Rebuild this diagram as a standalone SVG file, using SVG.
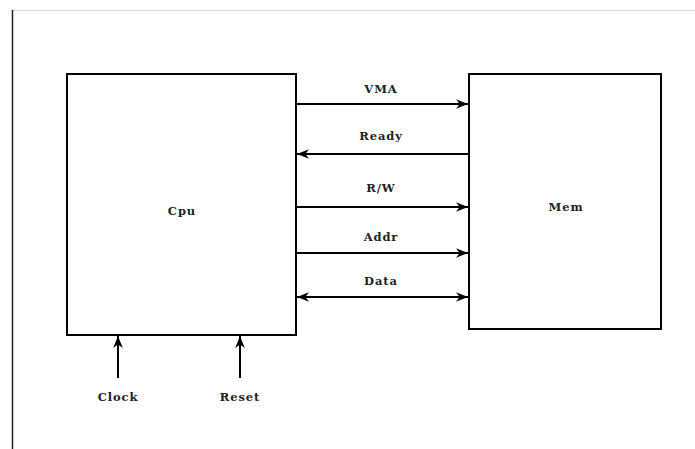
<svg xmlns="http://www.w3.org/2000/svg" width="695" height="449" viewBox="0 0 695 449">
<style>
.box{fill:#fff;stroke:#000;stroke-width:2}
.wire{stroke:#000;stroke-width:2;fill:none}
.lbl{font-family:"DejaVu Serif","Liberation Serif",serif;font-weight:bold;font-size:11.5px;letter-spacing:0.9px;fill:#222;text-anchor:middle}
</style>
<defs>
<marker id="ah" viewBox="0 0 10 10" refX="10" refY="5" markerWidth="6" markerHeight="6" orient="auto-start-reverse" markerUnits="strokeWidth">
<path d="M0,1 L10,5 L0,9 L3,5 Z" fill="#000"/>
</marker>
</defs>
<rect width="695" height="449" fill="#fff"/>
<line x1="12" y1="10.5" x2="695" y2="10.5" stroke="#d8d8d8" stroke-width="1"/>
<line x1="12.5" y1="10" x2="12.5" y2="449" stroke="#222" stroke-width="1.5"/>
<g id="cpu">
<rect class="box" x="67" y="74" width="229" height="261"/>
<text class="lbl" x="182" y="215">Cpu</text>
</g>
<g id="mem">
<rect class="box" x="469" y="74" width="192" height="255"/>
<text class="lbl" x="566" y="211">Mem</text>
</g>
<g id="clock">
<text class="lbl" x="118" y="401">Clock</text>
</g>
<g id="reset">
<text class="lbl" x="240" y="401">Reset</text>
</g>
<g id="connectors">
<line class="wire" x1="297" y1="104" x2="468" y2="104" marker-end="url(#ah)"/>
<text class="lbl" x="381" y="93">VMA</text>
<line class="wire" x1="468" y1="154" x2="297" y2="154" marker-end="url(#ah)"/>
<text class="lbl" x="381" y="140">Ready</text>
<line class="wire" x1="297" y1="207" x2="468" y2="207" marker-end="url(#ah)"/>
<text class="lbl" x="381" y="192">R/W</text>
<line class="wire" x1="297" y1="253" x2="468" y2="253" marker-end="url(#ah)"/>
<text class="lbl" x="381" y="241">Addr</text>
<line class="wire" x1="297" y1="297" x2="468" y2="297" marker-start="url(#ah)" marker-end="url(#ah)"/>
<text class="lbl" x="381" y="285">Data</text>
<line class="wire" x1="118" y1="378" x2="118" y2="336" marker-end="url(#ah)"/>
<line class="wire" x1="240" y1="378" x2="240" y2="336" marker-end="url(#ah)"/>
</g>
</svg>
